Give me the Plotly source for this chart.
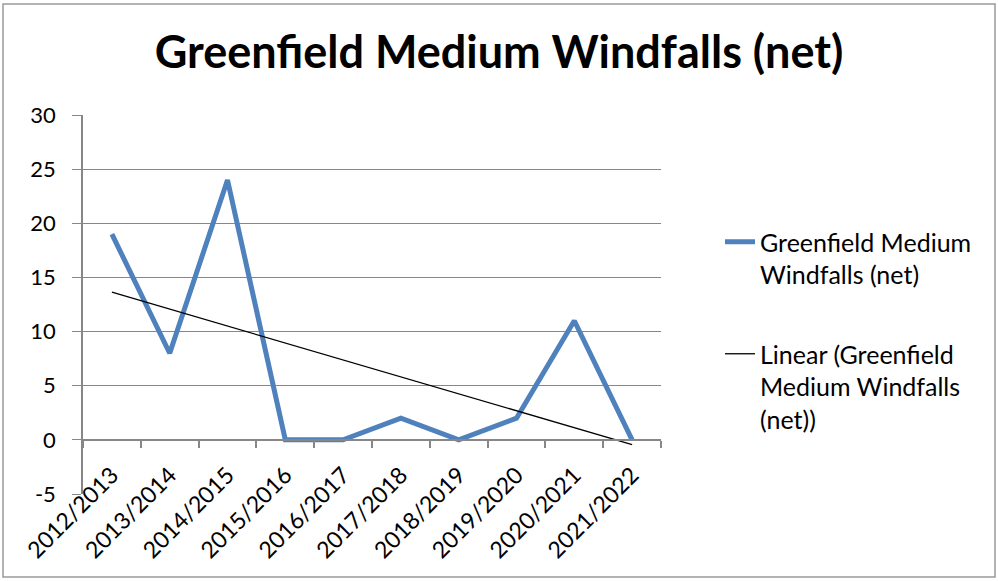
import numpy as np
import plotly.graph_objects as go

seasons = ["2012/2013", "2013/2014", "2014/2015", "2015/2016", "2016/2017",
           "2017/2018", "2018/2019", "2019/2020", "2020/2021", "2021/2022"]
windfalls = [19, 8, 24, 0, 0, 2, 0, 2, 11, 0]
y_ticks = [-5, 0, 5, 10, 15, 20, 25, 30]
y_labels = [str(v) for v in y_ticks]  # plain hyphen for "-5"

BLUE = "#4F81BD"
GRID = "#878787"
FONT = "Lato"

# least-squares trend over the category index, like the spreadsheet's linear trendline
idx = np.arange(1, len(seasons) + 1)
slope, intercept = np.polyfit(idx, windfalls, 1)
trend = slope * idx + intercept

W, H = 998, 581
L, R, T, B = 83, 337, 115, 87
pw, ph = W - L - R, H - T - B

fig = go.Figure()
fig.add_trace(go.Scatter(
    x=seasons, y=windfalls, mode="lines",
    name="Greenfield Medium<br>Windfalls (net)",
    line=dict(color=BLUE, width=5),
    legendgroup="a",
))
fig.add_trace(go.Scatter(
    x=seasons, y=trend, mode="lines",
    name="Linear (Greenfield<br>Medium Windfalls<br>(net))",
    line=dict(color="black", width=1.3),
    legendgroup="b",
))

ymin, ymax = y_ticks[0], y_ticks[-1]

fig.update_layout(
    width=W, height=H,
    margin=dict(l=L, r=R, t=T, b=B, autoexpand=False),
    paper_bgcolor="white", plot_bgcolor="white",
    font=dict(family=FONT, size=23, color="black"),
    title=dict(
        text="Greenfield Medium Windfalls (net)",
        x=0.5, xanchor="center", xref="container",
        y=1 - 52 / H, yanchor="middle", yref="container",
        font=dict(family=FONT, size=45, color="black", weight="bold"),
    ),
    legend=dict(
        x=(720 - L) / pw, xanchor="left",
        y=(H - B - 219) / ph, yanchor="top",
        valign="top", tracegroupgap=44,
        font=dict(family=FONT, size=25, color="black"),
        bgcolor="rgba(0,0,0,0)",
    ),
    showlegend=True,
    # second, label-less x axis at the bottom edge: its line stands in for the -5 gridline
    xaxis2=dict(
        overlaying="x", anchor="y", side="bottom",
        type="category", range=[-0.5, len(seasons) - 0.5],
        showline=True, linecolor=GRID, linewidth=1.3,
        showticklabels=False, ticks="", showgrid=False, zeroline=False,
    ),
)

# x axis sits on the zero line of the value axis
fig.update_xaxes(
    selector=dict(anchor="free"),
)
fig.layout.xaxis.update(
    type="category",
    range=[-0.5, len(seasons) - 0.5],
    anchor="free",
    position=(0 - ymin) / (ymax - ymin),
    showline=True, linecolor=GRID, linewidth=1.5,
    ticks="outside", tickson="boundaries", ticklen=7, tickcolor=GRID, tickwidth=1.5,
    tickangle=-45, ticklabelstandoff=12,
    showgrid=False, zeroline=False,
    tickfont=dict(family=FONT, size=23, color="black"),
)
fig.update_yaxes(
    range=[ymin, ymax], tickvals=y_ticks, ticktext=y_labels,
    showgrid=True, gridcolor=GRID, gridwidth=1.3,
    showline=True, linecolor=GRID, linewidth=1.5,
    ticks="outside", ticklen=9, tickcolor=GRID, tickwidth=1.3,
    ticklabelstandoff=12,
    zeroline=False,
    tickfont=dict(family=FONT, size=22, color="black"),
)

# chart-area border
fig.add_shape(
    type="rect", xref="paper", yref="paper",
    x0=(3 - L) / pw, x1=(W - 3 - L) / pw,
    y0=(H - B - (H - 4)) / ph, y1=(H - B - 4) / ph,
    line=dict(color="#9a9a9a", width=1.5), fillcolor="rgba(0,0,0,0)",
    layer="below",
)

fig.write_html(
    "out.html",
    config={"displayModeBar": False},
    post_script="document.body.style.margin='0';",
)
